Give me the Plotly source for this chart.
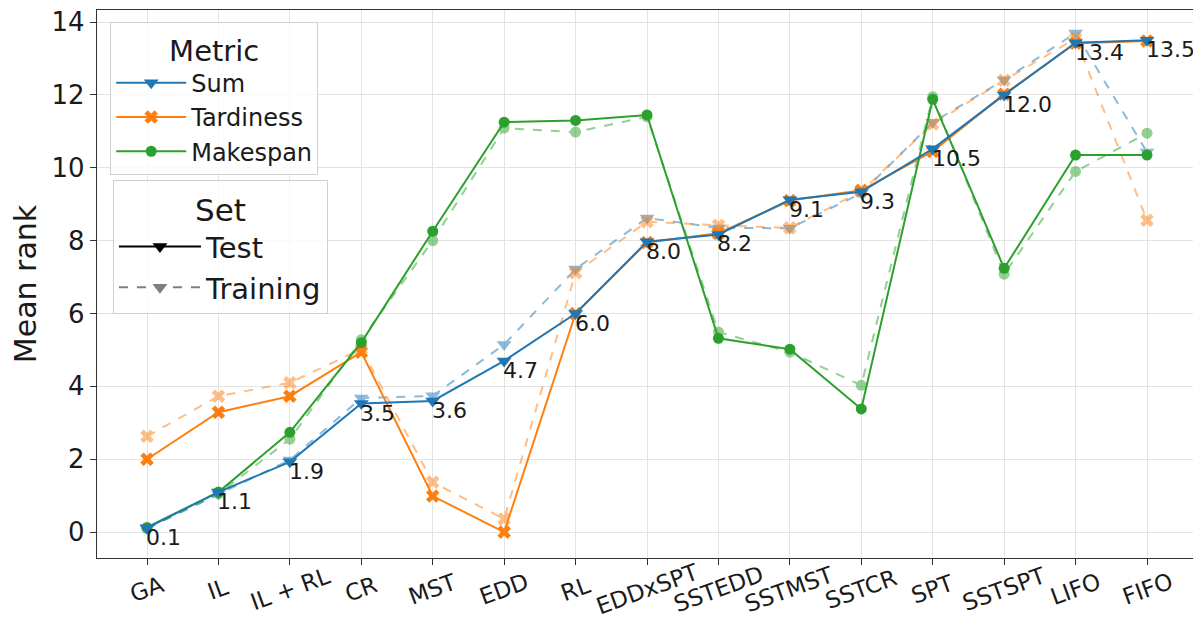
import plotly.graph_objects as go

categories = ["GA", "IL", "IL + RL", "CR", "MST", "EDD", "RL", "EDDxSPT", "SSTEDD",
              "SSTMST", "SSTCR", "SPT", "SSTSPT", "LIFO", "FIFO"]

sum_test = [0.12, 1.1, 1.93, 3.53, 3.6, 4.7, 6.0, 7.97, 8.17, 9.12, 9.34, 10.52, 12.0, 13.43, 13.5]
sum_train = [0.1, 1.05, 1.98, 3.68, 3.74, 5.15, 7.22, 8.62, 8.35, 8.34, 9.3, 11.25, 12.41, 13.7, 10.43]
tard_test = [2.0, 3.29, 3.73, 4.94, 0.99, 0.0, 6.0, 7.95, 8.2, 9.1, 9.38, 10.45, 12.02, 13.42, 13.48]
tard_train = [2.63, 3.73, 4.1, 5.02, 1.37, 0.36, 7.12, 8.52, 8.42, 8.35, 9.35, 11.2, 12.4, 13.55, 8.56]
mk_test = [0.13, 1.1, 2.74, 5.2, 8.26, 11.25, 11.3, 11.45, 5.32, 5.02, 3.38, 11.88, 7.24, 10.35, 10.35]
mk_train = [0.1, 1.05, 2.55, 5.28, 8.0, 11.09, 10.98, 11.4, 5.49, 4.94, 4.03, 11.95, 7.08, 9.9, 10.95]

BLUE, ORANGE, GREEN = "#1f77b4", "#ff7f0e", "#2ca02c"
FONT = "DejaVu Sans"

metrics = [
    ("Sum", sum_test, sum_train, BLUE, "triangle-down", 13, 1),
    ("Tardiness", tard_test, tard_train, ORANGE, "x", 12, 2),
    ("Makespan", mk_test, mk_train, GREEN, "circle", 11, 3),
]

fig = go.Figure()

# training (dashed, translucent) first
for name, test, train, color, sym, size, rank in metrics:
    fig.add_trace(go.Scatter(
        x=categories, y=train, mode="lines+markers", showlegend=False,
        line=dict(color=color, width=2, dash="dash"),
        marker=dict(symbol=sym, size=size, color=color, line=dict(width=0)),
        opacity=0.5, hoverinfo="skip"))

# test (solid); draw order orange, green, blue
for idx in [1, 2, 0]:
    name, test, train, color, sym, size, rank = metrics[idx]
    fig.add_trace(go.Scatter(
        x=categories, y=test, mode="lines+markers", name=name,
        legendgroup=name, legendrank=rank, legend="legend",
        line=dict(color=color, width=2),
        marker=dict(symbol=sym, size=size, color=color, line=dict(width=0))))

# Set legend entries
fig.add_trace(go.Scatter(
    x=[None], y=[None], mode="lines+markers", name="Test", legend="legend2",
    legendgroup="Test", line=dict(color="black", width=2),
    marker=dict(symbol="triangle-down", size=13, color="black")))
fig.add_trace(go.Scatter(
    x=[None], y=[None], mode="lines+markers", name="Training", legend="legend2",
    legendgroup="Training", line=dict(color="black", width=2, dash="dash"),
    marker=dict(symbol="triangle-down", size=13, color="black"), opacity=0.5))

# value labels for Sum test
for c, v in zip(categories, sum_test):
    fig.add_annotation(x=c, y=v, text=f"{v:.1f}", showarrow=False,
                       xanchor="left", yanchor="top", xshift=-3, yshift=5,
                       font=dict(family=FONT, size=22, color="#1a1a1a"))

# rotated x tick labels
for c in categories:
    fig.add_annotation(x=c, y=0, yref="paper", text=c, showarrow=False,
                       textangle=-20, xanchor="center", yanchor="middle", yshift=-31,
                       font=dict(family=FONT, size=23, color="#1a1a1a"))

# The page body has an 8px margin, so margins are offset to place the plot area
fig.update_layout(
    width=1201, height=633,
    margin=dict(l=89, r=12, t=2, b=83),
    paper_bgcolor="white", plot_bgcolor="white",
    font=dict(family=FONT, color="#1a1a1a"),
    legend=dict(
        x=0.012, y=0.978, xanchor="left", yanchor="top",
        title=dict(text="Metric", side="top center", font=dict(size=29)),
        font=dict(size=24), bgcolor="rgba(255,255,255,0.8)",
        bordercolor="#d0d0d0", borderwidth=1, itemwidth=70,
        tracegroupgap=11, traceorder="normal"),
    legend2=dict(
        x=0.0145, y=0.69, xanchor="left", yanchor="top",
        title=dict(text="Set", side="top center", font=dict(size=31)),
        font=dict(size=29), bgcolor="rgba(255,255,255,0.8)",
        bordercolor="#d0d0d0", borderwidth=1, itemwidth=82,
        tracegroupgap=13, traceorder="normal"),
    xaxis=dict(
        type="category", categoryorder="array", categoryarray=categories,
        range=[-0.7, 14.7], showticklabels=False, ticks="outside", ticklen=6,
        tickcolor="#333", showgrid=True, gridcolor="#e3e3e3", gridwidth=1, automargin=False,
        showline=True, linecolor="#333", linewidth=1.3, mirror=True, zeroline=False),
    yaxis=dict(
        range=[-0.71, 14.33], tickvals=[0, 2, 4, 6, 8, 10, 12, 14], ticks="outside",
        ticklen=6, tickcolor="#333", tickfont=dict(size=26), automargin=False,
        ticklabeloverflow="allow",
        title=dict(text="Mean rank", font=dict(size=30), standoff=14),
        showgrid=True, gridcolor="#e3e3e3", gridwidth=1,
        showline=True, linecolor="#333", linewidth=1.3, mirror=True, zeroline=False),
)

fig.write_html("out.html")
